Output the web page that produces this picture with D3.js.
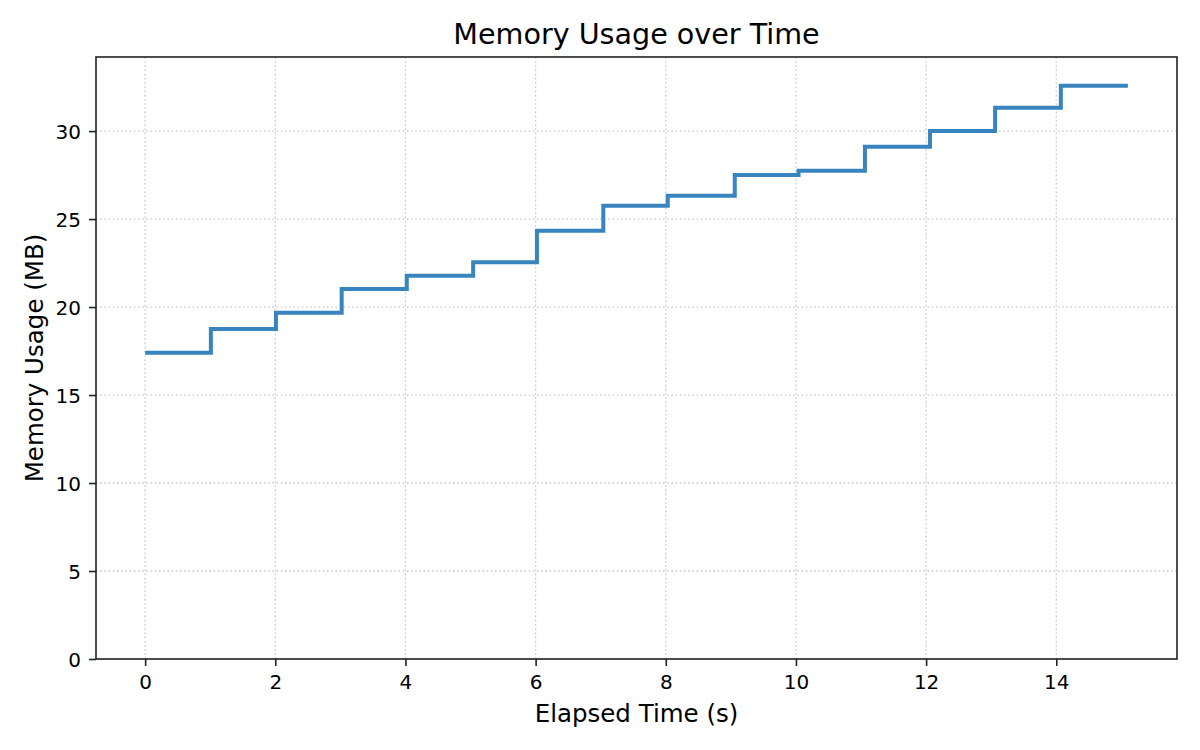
<!DOCTYPE html>
<html>
<head>
<meta charset="utf-8">
<script src="https://cdn.jsdelivr.net/npm/d3@7"></script>
<style>
html,body{margin:0;padding:0;background:#fff;}
svg{display:block;font-family:"DejaVu Sans",sans-serif;}
</style>
</head>
<body>
<svg id="chart" width="1200" height="750"></svg>
<script>
const times = [0, 1.01, 2.01, 3.02, 4.02, 5.04, 6.02, 7.04, 8.03, 9.06, 10.04, 11.06, 12.06, 13.06, 14.07, 15.1];
const memory = [17.40, 18.75, 19.68, 21.02, 21.78, 22.54, 24.34, 25.76, 26.33, 27.50, 27.74, 29.11, 30.00, 31.33, 32.58, 32.58];
const xTicks = [0, 2, 4, 6, 8, 10, 12, 14];
const yTicks = [0, 5, 10, 15, 20, 25, 30];
const titleText = "Memory Usage over Time";
const xLabel = "Elapsed Time (s)";
const yLabel = "Memory Usage (MB)";

const svg = d3.select("#chart");
const m = {left: 96, right: 1177, top: 57, bottom: 659};

const xMin = d3.min(times), xMax = d3.max(times);
const xPad = (xMax - xMin) * 0.05;
const x = d3.scaleLinear().domain([xMin - xPad, xMax + xPad]).range([m.left, m.right]);
const yMax = d3.max(memory) * 1.05;
const y = d3.scaleLinear().domain([0, yMax]).range([m.bottom, m.top]);

// grid
const grid = svg.append("g");
grid.selectAll(".vx").data(xTicks).join("line")
  .attr("x1", d => x(d)).attr("x2", d => x(d))
  .attr("y1", m.top).attr("y2", m.bottom)
  .attr("stroke", "#c8c8c8").attr("stroke-width", 1.3).attr("stroke-dasharray", "1.6,2.6");
grid.selectAll(".hy").data(yTicks).join("line")
  .attr("x1", m.left).attr("x2", m.right)
  .attr("y1", d => y(d)).attr("y2", d => y(d))
  .attr("stroke", "#c8c8c8").attr("stroke-width", 1.3).attr("stroke-dasharray", "1.6,2.6");

// step line
const line = d3.line().x(d => x(d[0])).y(d => y(d[1])).curve(d3.curveStepAfter);
svg.append("path")
  .datum(times.map((t, i) => [t, memory[i]]))
  .attr("d", line)
  .attr("fill", "none")
  .attr("stroke", "#3784bf")
  .attr("stroke-width", 4)
  .attr("stroke-linejoin", "miter")
  .attr("stroke-linecap", "butt");

// axes
const xAxis = d3.axisBottom(x).tickValues(xTicks).tickSize(7).tickPadding(7).tickFormat(d3.format("d"));
const yAxis = d3.axisLeft(y).tickValues(yTicks).tickSize(7).tickPadding(8).tickFormat(d3.format("d"));
const gx = svg.append("g").attr("transform", `translate(0,${m.bottom})`).call(xAxis);
const gy = svg.append("g").attr("transform", `translate(${m.left},0)`).call(yAxis);
[gx, gy].forEach(g => {
  g.select(".domain").remove();
  g.selectAll(".tick line").attr("stroke", "#222").attr("stroke-width", 1.6);
  g.selectAll(".tick text").attr("fill", "#000").style("font-size", "20px").style("font-family", "DejaVu Sans");
});
gx.selectAll(".tick text").attr("dy", null).attr("y", 30);
gy.selectAll(".tick text").attr("dy", "0.36em");

// frame
svg.append("rect")
  .attr("x", m.left).attr("y", m.top)
  .attr("width", m.right - m.left).attr("height", m.bottom - m.top)
  .attr("fill", "none").attr("stroke", "#222").attr("stroke-width", 1.6);

// labels
svg.append("text").attr("x", (m.left + m.right) / 2).attr("y", 44)
  .attr("text-anchor", "middle").style("font-size", "28.6px").attr("fill", "#000").text(titleText);
svg.append("text").attr("x", (m.left + m.right) / 2).attr("y", 722)
  .attr("text-anchor", "middle").style("font-size", "24.5px").attr("fill", "#000").text(xLabel);
svg.append("text").attr("transform", `translate(43,${(m.top + m.bottom) / 2}) rotate(-90)`)
  .attr("text-anchor", "middle").style("font-size", "24.5px").attr("fill", "#000").text(yLabel);
</script>
</body>
</html>
